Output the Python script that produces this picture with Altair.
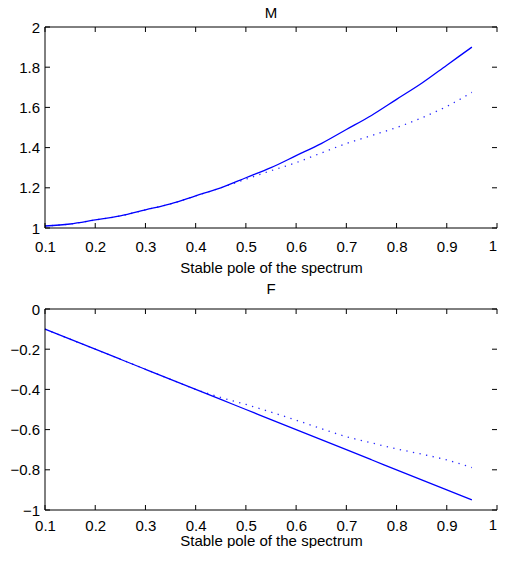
import altair as alt
import pandas as pd

# ---- data ----
pole = [0.10, 0.15, 0.20, 0.25, 0.30, 0.35, 0.40, 0.45, 0.50,
        0.55, 0.60, 0.65, 0.70, 0.75, 0.80, 0.85, 0.90, 0.95]
m_solid = [1.01, 1.02, 1.04, 1.06, 1.09, 1.12, 1.16, 1.20, 1.25,
           1.30, 1.36, 1.42, 1.49, 1.56, 1.64, 1.72, 1.81, 1.90]
m_dotted = [1.01, 1.02, 1.04, 1.06, 1.09, 1.12, 1.16, 1.20, 1.243,
            1.285, 1.325, 1.373, 1.42, 1.46, 1.50, 1.548, 1.605, 1.675]
f_solid = [-0.10, -0.15, -0.20, -0.25, -0.30, -0.35, -0.40, -0.45, -0.50,
           -0.55, -0.60, -0.65, -0.70, -0.75, -0.80, -0.85, -0.90, -0.95]
f_dotted = [-0.10, -0.15, -0.20, -0.25, -0.30, -0.35, -0.40, -0.44, -0.475,
            -0.513, -0.553, -0.595, -0.635, -0.666, -0.696, -0.722, -0.751, -0.789]

x_ticks = [0.1, 0.2, 0.3, 0.4, 0.5, 0.6, 0.7, 0.8, 0.9, 1.0]
m_ticks = [1.0, 1.2, 1.4, 1.6, 1.8, 2.0]
f_ticks = [-1.0, -0.8, -0.6, -0.4, -0.2, 0.0]

titles = ["M", "F"]
x_title = "Stable pole of the spectrum"

W, H = 452, 201
BLUE = "#0000ff"
FONT = "Liberation Sans"


def panel(title, solid, dotted, ydomain, yticks, title_offset, lab_pad, tit_pad):
    df = pd.DataFrame({
        "p": pole * 2,
        "v": solid + dotted,
        "s": ["solid"] * len(pole) + ["dotted"] * len(pole),
    })
    xs = alt.Scale(domain=[0.1, 1.0], nice=False, zero=False)
    ys = alt.Scale(domain=ydomain, nice=False, zero=False)
    # the last label ("1") sits at the very edge; it is drawn right-aligned below
    x_axis = alt.Axis(
        values=x_ticks[:-1], format="~g", title=x_title,
        labelFlush=False, labelPadding=lab_pad, titlePadding=tit_pad,
    )
    y_axis = alt.Axis(values=yticks, format="~g", title=None,
                      labelPadding=5.5, minExtent=37, maxExtent=37)

    base = alt.Chart(df)
    solid_line = base.transform_filter(alt.datum.s == "solid").mark_line(
        color=BLUE, strokeWidth=1.3, interpolate="monotone"
    ).encode(
        x=alt.X("p:Q", scale=xs, axis=x_axis),
        y=alt.Y("v:Q", scale=ys, axis=y_axis),
    )
    dotted_line = base.transform_filter(alt.datum.s == "dotted").mark_line(
        color=BLUE, strokeWidth=1.3, strokeDash=[1.3, 5.4], opacity=0.85,
        interpolate="monotone"
    ).encode(
        x=alt.X("p:Q", scale=xs, axis=x_axis),
        y=alt.Y("v:Q", scale=ys, axis=y_axis),
    )

    xt = alt.Chart(pd.DataFrame({"t": x_ticks}))
    yt = alt.Chart(pd.DataFrame({"t": yticks}))
    bottom_ticks = xt.mark_rule(color="black", strokeWidth=1).encode(
        x=alt.X("t:Q", scale=xs, axis=x_axis), y=alt.value(H - 5), y2=alt.value(H))
    top_ticks = xt.mark_rule(color="black", strokeWidth=1).encode(
        x=alt.X("t:Q", scale=xs, axis=x_axis), y=alt.value(0), y2=alt.value(5))
    left_ticks = yt.mark_rule(color="black", strokeWidth=1).encode(
        y=alt.Y("t:Q", scale=ys, axis=y_axis), x=alt.value(0), x2=alt.value(5))
    right_ticks = yt.mark_rule(color="black", strokeWidth=1).encode(
        y=alt.Y("t:Q", scale=ys, axis=y_axis), x=alt.value(W - 5), x2=alt.value(W))

    last_label = alt.Chart(pd.DataFrame({"t": [x_ticks[-1]]})).mark_text(
        align="right", baseline="top", font=FONT, fontSize=15, color="black"
    ).encode(
        x=alt.X("t:Q", scale=xs, axis=x_axis),
        y=alt.value(H + lab_pad),
        text=alt.Text("t:Q", format="~g"),
    )

    # frame: top, bottom and left edges (right edge lies beyond the picture)
    one = alt.Chart(pd.DataFrame({"k": [0]}))
    frame_top = one.mark_rule(color="black", strokeWidth=1).encode(
        x=alt.value(0), x2=alt.value(W), y=alt.value(0))
    frame_bottom = one.mark_rule(color="black", strokeWidth=1).encode(
        x=alt.value(0), x2=alt.value(W), y=alt.value(H))
    frame_left = one.mark_rule(color="black", strokeWidth=1).encode(
        x=alt.value(0), y=alt.value(0), y2=alt.value(H))

    return alt.layer(
        solid_line, dotted_line, bottom_ticks, top_ticks, left_ticks, right_ticks,
        last_label, frame_top, frame_bottom, frame_left,
    ).properties(
        width=W, height=H,
        title=alt.Title(title, baseline="alphabetic", offset=title_offset),
    )


top = panel(titles[0], m_solid, m_dotted, [1.0, 2.0], m_ticks, -12.7, 11, 6)
bottom = panel(titles[1], f_solid, f_dotted, [-1.0, 0.0], f_ticks, -7.3, 8, 0)

chart = alt.vconcat(top, bottom, spacing=7).properties(
    padding={"left": 0, "top": -3, "right": 0, "bottom": 0},
).configure_view(
    stroke=None
).configure_axis(
    domain=False, ticks=False, tickSize=0, grid=False,
    labelFont=FONT, labelFontSize=15, labelColor="black",
    titleFont=FONT, titleFontSize=15, titleFontWeight="normal", titleColor="black",
).configure_title(
    font=FONT, fontSize=15, fontWeight="normal", color="black", anchor="middle"
)

chart.save("out.html", embed_options={"renderer": "svg", "actions": False})
